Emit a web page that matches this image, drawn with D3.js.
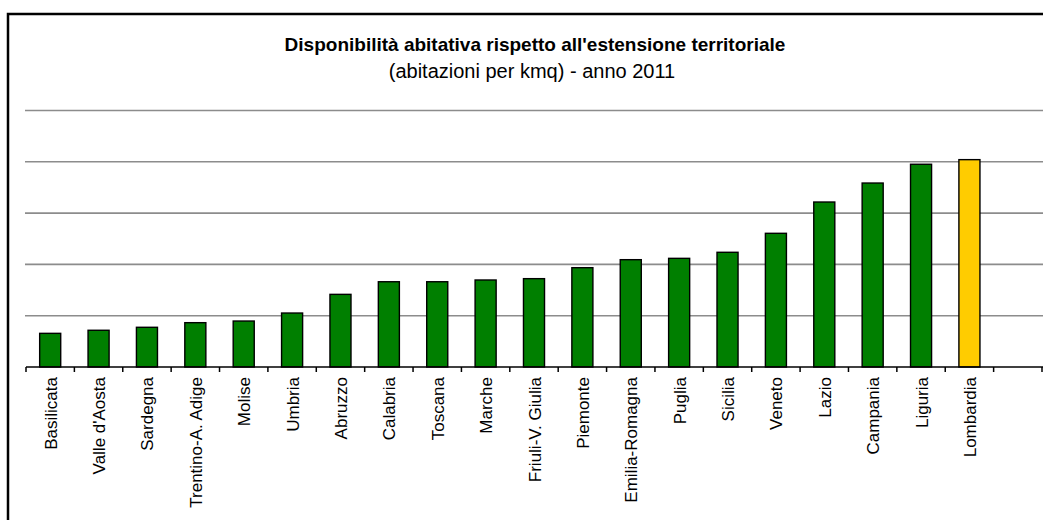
<!DOCTYPE html>
<html>
<head>
<meta charset="utf-8">
<script src="https://cdn.jsdelivr.net/npm/d3@7"></script>
<style>
  html, body { margin: 0; padding: 0; background: #fff; }
  svg { display: block; }
  text { font-family: "Liberation Sans", Arial, sans-serif; fill: #000; }
</style>
</head>
<body>
<svg id="chart" width="1043" height="520"></svg>
<script>
// Regions, ordered by housing density
const regions = [
  "Basilicata", "Valle d'Aosta", "Sardegna", "Trentino-A. Adige", "Molise",
  "Umbria", "Abruzzo", "Calabria", "Toscana", "Marche",
  "Friuli-V. Giulia", "Piemonte", "Emilia-Romagna", "Puglia", "Sicilia",
  "Veneto", "Lazio", "Campania", "Liguria", "Lombardia"
];
// Dwellings per km², 2011
const dwellingsPerKm2 = [
  32.8, 35.8, 38.7, 43.2, 44.8,
  52.6, 70.8, 83.1, 83.1, 84.8,
  86.1, 96.8, 104.6, 105.9, 111.8,
  130.3, 160.8, 179.3, 197.6, 202.1
];
const highlighted = ["Lombardia"];
const gridValues = [50, 100, 150, 200, 250];

const titleText = "Disponibilità abitativa rispetto all'estensione territoriale";
const subtitleText = "(abitazioni per kmq) - anno 2011";

const svg = d3.select("#chart");

// Outer frame (runs past the right and bottom edges)
svg.append("rect")
  .attr("x", 8).attr("y", 14)
  .attr("width", 1100).attr("height", 600)
  .attr("fill", "#fff")
  .attr("stroke", "#000")
  .attr("stroke-width", 2.5);

const plotLeft = 26, plotRight = 1042, baseY = 367, topY = 110.5;

// One extra empty slot after the last region
const slots = regions.concat([""]);
const x = d3.scaleBand()
  .domain(slots)
  .range([plotLeft, plotRight])
  .paddingInner(0.565)
  .paddingOuter(0.2825);

const y = d3.scaleLinear()
  .domain([0, 250])
  .range([baseY, topY]);

// Horizontal gridlines
svg.append("g")
  .selectAll("line")
  .data(gridValues)
  .join("line")
  .attr("x1", plotLeft - 1).attr("x2", 1043)
  .attr("y1", d => y(d)).attr("y2", d => y(d))
  .attr("stroke", "#8c8c8c")
  .attr("stroke-width", 1.6);

// Bars
svg.append("g")
  .selectAll("rect")
  .data(regions.map((r, i) => ({ region: r, value: dwellingsPerKm2[i] })))
  .join("rect")
  .attr("x", d => x(d.region))
  .attr("width", x.bandwidth())
  .attr("y", d => y(d.value))
  .attr("height", d => y(0) - y(d.value))
  .attr("fill", d => highlighted.includes(d.region) ? "#ffcc00" : "#007f00")
  .attr("stroke", "#000")
  .attr("stroke-width", 1.4);

// Category axis: baseline, ticks between slots, rotated labels
const step = x.step();
const axis = svg.append("g");
axis.append("line")
  .attr("x1", plotLeft).attr("x2", 1043)
  .attr("y1", baseY).attr("y2", baseY)
  .attr("stroke", "#000").attr("stroke-width", 1.5);

axis.selectAll("line.tick")
  .data(d3.range(slots.length + 1))
  .join("line")
  .attr("class", "tick")
  .attr("x1", i => plotLeft + i * step).attr("x2", i => plotLeft + i * step)
  .attr("y1", baseY).attr("y2", baseY + 5)
  .attr("stroke", "#000").attr("stroke-width", 1.5);

axis.selectAll("text")
  .data(regions)
  .join("text")
  .attr("transform", d => `translate(${x(d) + x.bandwidth() / 2 + 6.5},${baseY + 10}) rotate(-90)`)
  .attr("text-anchor", "end")
  .style("font-size", "17px")
  .text(d => d);

// Titles
svg.append("text")
  .attr("x", 535).attr("y", 51)
  .attr("text-anchor", "middle")
  .style("font-size", "19px")
  .style("font-weight", "bold")
  .text(titleText);

svg.append("text")
  .attr("x", 532).attr("y", 78)
  .attr("text-anchor", "middle")
  .style("font-size", "20px")
  .text(subtitleText);
</script>
</body>
</html>
